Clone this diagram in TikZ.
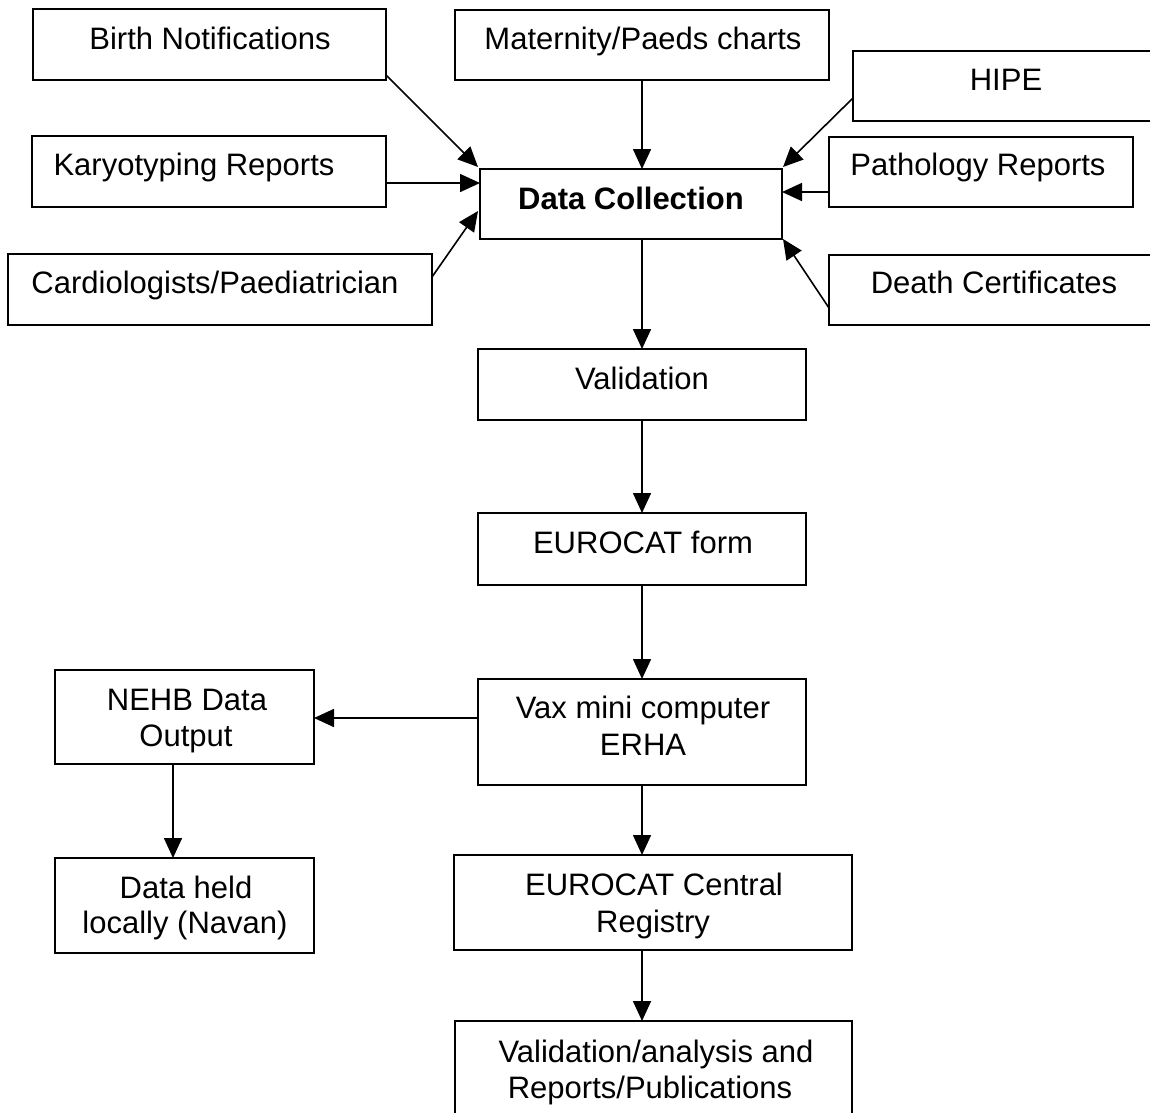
\documentclass[tikz,border=0pt]{standalone}
\usepackage{fontspec}
\setmainfont{Liberation Sans}
\usetikzlibrary{arrows.meta}
\begin{document}
\begin{tikzpicture}[x=1pt,y=-1pt,
  box/.style={draw=black,line width=1.6pt,inner sep=0pt,outer sep=0pt,rectangle},
  txt/.style={inner sep=0pt,outer sep=0pt,anchor=base,font=\fontsize{31}{36}\selectfont},
  arr/.style={draw=black,line width=1.6pt,-{Triangle[length=20pt,width=18pt]}}]
\useasboundingbox (0,0) rectangle (1150,1112);
% boxes
\node[box,minimum width=353pt,minimum height=71pt] (bn) at (209.5,44.5) {};
\node[box,minimum width=374pt,minimum height=70pt] (mp) at (642,45) {};
\node[box,minimum width=303pt,minimum height=70pt] (hp) at (1004.5,86) {};
\node[box,minimum width=354pt,minimum height=71pt] (ky) at (209,171.5) {};
\node[box,minimum width=302pt,minimum height=70pt] (dc) at (631,204) {};
\node[box,minimum width=304pt,minimum height=70pt] (pr) at (981,172) {};
\node[box,minimum width=424pt,minimum height=71pt] (cd) at (220,289.5) {};
\node[box,minimum width=327pt,minimum height=70pt] (dt) at (992.5,290) {};
\node[box,minimum width=328pt,minimum height=71pt] (va) at (642,384.5) {};
\node[box,minimum width=328pt,minimum height=72pt] (ef) at (642,549) {};
\node[box,minimum width=328pt,minimum height=106pt] (vx) at (642,732) {};
\node[box,minimum width=259pt,minimum height=94pt] (nb) at (184.5,717) {};
\node[box,minimum width=259pt,minimum height=95pt] (dh) at (184.5,905.5) {};
\node[box,minimum width=398pt,minimum height=95pt] (ec) at (653,902.5) {};
\node[box,minimum width=397pt,minimum height=99pt] (vr) at (653.5,1070.5) {};
% texts
\node[txt] (tbn) at (210,49) {Birth Notifications};
\node[txt] (tmp) at (643,49) {Maternity/Paeds charts};
\node[txt] (thp) at (1006,90) {HIPE};
\node[txt] (tky) at (194,175) {Karyotyping Reports};
\node[txt,font=\fontsize{31}{36}\selectfont\bfseries] (tdc) at (631,209) {Data Collection};
\node[txt] (tpr) at (978,175) {Pathology Reports};
\node[txt] (tcd) at (215,293) {Cardiologists/Paediatrician};
\node[txt] (tdt) at (994,293) {Death Certificates};
\node[txt] (tva) at (642,389) {Validation};
\node[txt] (tef) at (643,553) {EUROCAT form};
\node[txt] (tvx1) at (643,718) {Vax mini computer};
\node[txt] (tvx2) at (643,755) {ERHA};
\node[txt] (tnb1) at (187,710) {NEHB Data};
\node[txt] (tnb2) at (186,746) {Output};
\node[txt] (tdh1) at (186,898) {Data held};
\node[txt] (tdh2) at (185,933) {locally (Navan)};
\node[txt] (tec1) at (654,895) {EUROCAT Central};
\node[txt] (tec2) at (653,932) {Registry};
\node[txt] (tvr1) at (656,1062) {Validation/analysis and};
\node[txt] (tvr2) at (650,1098) {Reports/Publications};
% connectors into Data Collection
\draw[arr] ([yshift=5pt]bn.south east) -- ([xshift=-2pt,yshift=2pt]dc.north west);
\coordinate (kyo) at ([yshift=-11.5pt]ky.east);
\draw[arr] (kyo) -- (kyo -| dc.west);
\draw[arr] ([yshift=-23pt]cd.north east) -- ([xshift=-2pt,yshift=-42pt]dc.north west);
\draw[arr] (mp.south) -- (mp.south |- dc.north);
\draw[arr] ([yshift=-47pt]hp.north west) -- ([xshift=1pt,yshift=2pt]dc.north east);
\coordinate (pri) at ([yshift=12pt]dc.east);
\draw[arr] (pri -| pr.west) -- (pri);
\draw[arr] ([yshift=17pt]dt.south west) -- ([xshift=1pt]dc.south east);
% main chain
\draw[arr] (va.north |- dc.south) -- (va.north);
\draw[arr] (va.south) -- (ef.north);
\draw[arr] (ef.south) -- (vx.north);
\coordinate (vxo) at ([yshift=14pt]vx.west);
\draw[arr] (vxo) -- (vxo -| nb.east);
\draw[arr] ([xshift=-11.5pt]nb.south) -- ([xshift=-11.5pt]dh.north);
\draw[arr] (vx.south) -- (vx.south |- ec.north);
\draw[arr] ([xshift=-11pt]ec.south) -- ([xshift=-11.5pt]vr.north);
\end{tikzpicture}
\end{document}
